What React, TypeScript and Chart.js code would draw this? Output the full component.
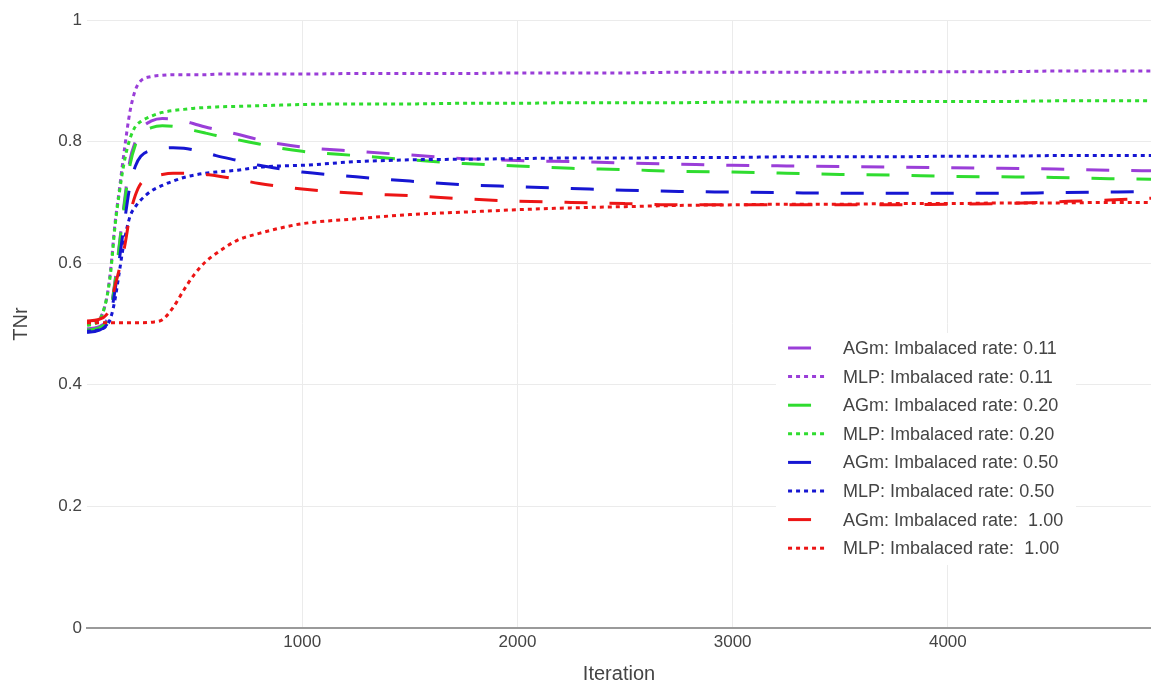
import React, { useEffect, useRef } from 'react';
import { Chart, registerables } from 'chart.js';

Chart.register(...registerables);

// Iteration values (x)
const iterations = [0, 50, 90, 110, 130, 150, 175, 200, 225, 250, 300, 350, 400, 450, 500, 550, 600, 700, 800, 900, 1000, 1250, 1500, 1750, 2000, 2250, 2500, 2750, 3000, 3250, 3500, 3750, 4000, 4250, 4500, 4750, 4944];

// TNr series
const agm011 = [0.492, 0.495, 0.505, 0.525, 0.57, 0.63, 0.705, 0.77, 0.80, 0.82, 0.834, 0.838, 0.837, 0.834, 0.829, 0.824, 0.82, 0.812, 0.803, 0.796, 0.791, 0.784, 0.778, 0.772, 0.769, 0.767, 0.765, 0.763, 0.761, 0.76, 0.759, 0.758, 0.757, 0.756, 0.755, 0.753, 0.752];
const mlp011 = [0.5, 0.505, 0.54, 0.59, 0.665, 0.72, 0.79, 0.85, 0.885, 0.90, 0.907, 0.909, 0.91, 0.91, 0.91, 0.91, 0.911, 0.911, 0.911, 0.911, 0.911, 0.912, 0.912, 0.912, 0.913, 0.913, 0.913, 0.914, 0.914, 0.914, 0.914, 0.915, 0.915, 0.915, 0.916, 0.916, 0.916];
const agm020 = [0.49, 0.493, 0.503, 0.523, 0.568, 0.628, 0.70, 0.762, 0.795, 0.812, 0.823, 0.826, 0.825, 0.822, 0.818, 0.814, 0.81, 0.803, 0.796, 0.789, 0.784, 0.777, 0.77, 0.764, 0.76, 0.756, 0.754, 0.751, 0.75, 0.748, 0.746, 0.745, 0.743, 0.742, 0.741, 0.739, 0.738];
const mlp020 = [0.498, 0.503, 0.54, 0.585, 0.66, 0.715, 0.77, 0.805, 0.825, 0.833, 0.842, 0.848, 0.851, 0.853, 0.855, 0.856, 0.857, 0.858, 0.859, 0.86, 0.861, 0.862, 0.862, 0.863, 0.863, 0.864, 0.864, 0.864, 0.865, 0.865, 0.865, 0.866, 0.866, 0.866, 0.867, 0.867, 0.867];
const agm050 = [0.486, 0.489, 0.498, 0.515, 0.555, 0.605, 0.67, 0.728, 0.76, 0.776, 0.786, 0.789, 0.79, 0.789, 0.786, 0.782, 0.777, 0.769, 0.761, 0.755, 0.75, 0.742, 0.735, 0.729, 0.726, 0.723, 0.72, 0.718, 0.717, 0.716, 0.715, 0.715, 0.715, 0.715, 0.716, 0.717, 0.718];
const mlp050 = [0.488, 0.49, 0.497, 0.51, 0.54, 0.585, 0.64, 0.677, 0.693, 0.704, 0.719, 0.728, 0.735, 0.741, 0.745, 0.748, 0.75, 0.753, 0.758, 0.76, 0.761, 0.767, 0.77, 0.771, 0.772, 0.773, 0.773, 0.774, 0.774, 0.775, 0.775, 0.775, 0.776, 0.776, 0.777, 0.777, 0.777];
const agm100 = [0.505, 0.507, 0.515, 0.53, 0.562, 0.59, 0.628, 0.68, 0.712, 0.731, 0.741, 0.746, 0.748, 0.748, 0.748, 0.746, 0.744, 0.738, 0.731, 0.726, 0.722, 0.715, 0.711, 0.706, 0.702, 0.7, 0.698, 0.696, 0.696, 0.696, 0.696, 0.696, 0.697, 0.698, 0.701, 0.704, 0.707];
const mlp100 = [0.502, 0.502, 0.502, 0.502, 0.502, 0.502, 0.502, 0.502, 0.502, 0.502, 0.503, 0.507, 0.527, 0.556, 0.582, 0.602, 0.616, 0.638, 0.649, 0.658, 0.665, 0.673, 0.68, 0.684, 0.688, 0.691, 0.693, 0.695, 0.696, 0.697, 0.697, 0.698, 0.698, 0.699, 0.699, 0.7, 0.7];

const seriesLabels = [
  'AGm: Imbalaced rate: 0.11',
  'MLP: Imbalaced rate: 0.11',
  'AGm: Imbalaced rate: 0.20',
  'MLP: Imbalaced rate: 0.20',
  'AGm: Imbalaced rate: 0.50',
  'MLP: Imbalaced rate: 0.50',
  'AGm: Imbalaced rate:  1.00',
  'MLP: Imbalaced rate:  1.00',
];
const seriesValues = [agm011, mlp011, agm020, mlp020, agm050, mlp050, agm100, mlp100];

const xTickValues = [1000, 2000, 3000, 4000];
const yTickStep = 0.2;

// styles
const PURPLE = '#9a3ed8';
const GREEN = '#2fdc2f';
const BLUE = '#1616d2';
const RED = '#ec1515';
const seriesColors = [PURPLE, PURPLE, GREEN, GREEN, BLUE, BLUE, RED, RED];
const DASH = [23, 22];
const DOT = [4, 4];
const FONT = '"Liberation Sans", Arial, sans-serif';
const TEXT = '#444';

const legendPlugin = {
  id: 'insideLegend',
  afterDatasetsDraw(chart: any) {
    const { ctx, chartArea } = chart;
    const w = chartArea.right - chartArea.left;
    const x0 = chartArea.left + w * 0.6476;
    const y0 = 333;
    ctx.save();
    ctx.fillStyle = '#ffffff';
    ctx.fillRect(x0, y0, 300, 232);
    chart.data.datasets.forEach((ds: any, i: number) => {
      const y = y0 + 15 + i * 28.6;
      ctx.strokeStyle = ds.borderColor;
      ctx.lineWidth = 3;
      ctx.lineCap = 'butt';
      ctx.setLineDash(ds.borderDash || []);
      ctx.beginPath();
      ctx.moveTo(x0 + 12, y);
      ctx.lineTo(x0 + 52, y);
      ctx.stroke();
      ctx.setLineDash([]);
      ctx.fillStyle = TEXT;
      ctx.font = '18px ' + FONT;
      ctx.textBaseline = 'middle';
      ctx.textAlign = 'left';
      ctx.fillText(ds.label, x0 + 67, y + 1);
    });
    ctx.restore();
  },
};

export default function App() {
  const canvasRef = useRef<HTMLCanvasElement | null>(null);

  useEffect(() => {
    if (!canvasRef.current) return;
    const datasets = seriesValues.map((vals, i) => ({
      label: seriesLabels[i],
      data: vals.map((v, k) => ({ x: iterations[k], y: v })),
      borderColor: seriesColors[i],
      backgroundColor: seriesColors[i],
      borderWidth: 3,
      borderDash: i % 2 === 0 ? DASH : DOT,
      borderCapStyle: 'butt' as const,
      pointRadius: 0,
      fill: false,
      cubicInterpolationMode: 'monotone' as const,
      order: seriesValues.length - i,
    }));

    const chart = new Chart(canvasRef.current, {
      type: 'line',
      data: { datasets },
      options: {
        animation: false,
        responsive: false,
        devicePixelRatio: 1,
        layout: { padding: { left: 0, right: 0, top: 20, bottom: 0 } },
        plugins: {
          legend: { display: false },
          tooltip: { enabled: false },
        },
        scales: {
          x: {
            type: 'linear',
            min: 0,
            max: 4944,
            afterBuildTicks: (scale: any) => {
              scale.ticks = xTickValues.map((v) => ({ value: v }));
            },
            afterFit: (scale: any) => {
              scale.height = 59;
            },
            grid: { color: '#ebebeb', lineWidth: 1, drawTicks: false },
            border: { display: true, color: '#9a9a9a', width: 2 },
            ticks: {
              autoSkip: false,
              maxRotation: 0,
              padding: 4,
              color: TEXT,
              font: { family: FONT, size: 17 },
              callback: (v: any) => String(v),
            },
            title: {
              display: true,
              text: 'Iteration',
              color: TEXT,
              font: { family: FONT, size: 20 },
              padding: { top: 0, bottom: 1 },
            },
          },
          y: {
            type: 'linear',
            min: 0,
            max: 1,
            afterFit: (scale: any) => {
              scale.width = 87;
            },
            grid: {
              color: (c: any) => (c.tick && c.tick.value === 0 ? 'rgba(0,0,0,0)' : '#ebebeb'),
              lineWidth: 1,
              drawTicks: false,
            },
            border: { display: false },
            ticks: {
              stepSize: yTickStep,
              padding: 5,
              color: TEXT,
              font: { family: FONT, size: 17 },
              callback: (v: any) => String(Math.round(Number(v) * 10) / 10),
            },
            title: {
              display: true,
              text: 'TNr',
              color: TEXT,
              font: { family: FONT, size: 20 },
              padding: { top: 9, bottom: 0 },
            },
          },
        },
      },
      plugins: [legendPlugin],
    });
    return () => chart.destroy();
  }, []);

  return (
    <div style={{ position: 'absolute', left: 0, top: 0, width: 1151, height: 687, background: '#fff' }}>
      <canvas ref={canvasRef} width={1151} height={687} />
    </div>
  );
}
